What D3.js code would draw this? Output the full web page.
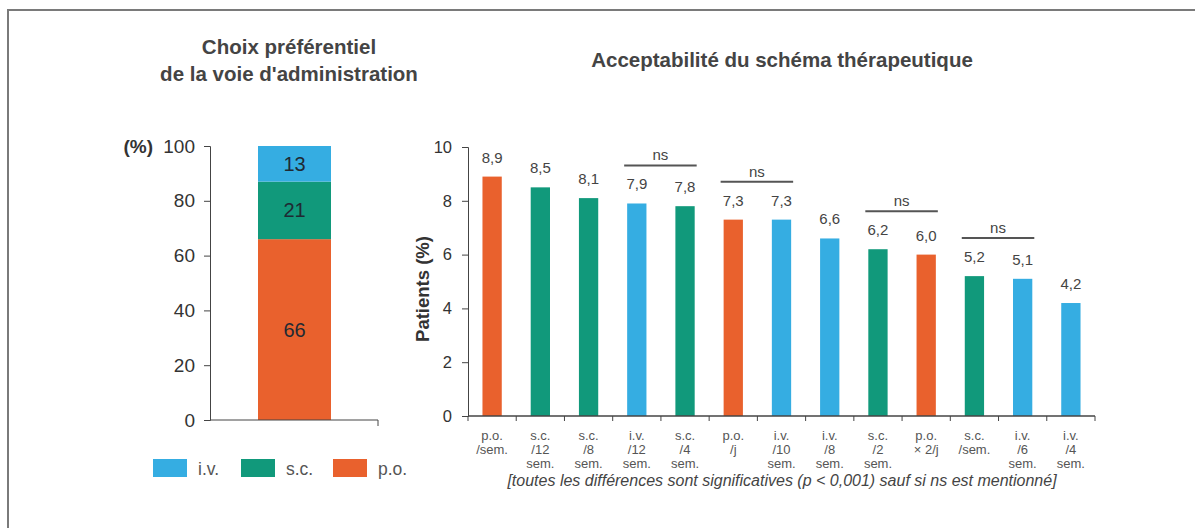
<!DOCTYPE html>
<html>
<head>
<meta charset="utf-8">
<script src="https://cdn.jsdelivr.net/npm/d3@7"></script>
<style>
  body { margin: 0; background: #fff; }
  svg { font-family: "Liberation Sans", Arial, sans-serif; }
</style>
</head>
<body>
<svg id="chart" width="1195" height="528"></svg>
<script>
// left chart data
const routes = ["p.o.", "s.c.", "i.v."];
const routeShares = [66, 21, 13];
const leftTicks = [0, 20, 40, 60, 80, 100];

// right chart data
const schemeLabels = [
  ["p.o.", "/sem.", ""], ["s.c.", "/12", "sem."], ["s.c.", "/8", "sem."],
  ["i.v.", "/12", "sem."], ["s.c.", "/4", "sem."], ["p.o.", "/j", ""],
  ["i.v.", "/10", "sem."], ["i.v.", "/8", "sem."], ["s.c.", "/2", "sem."],
  ["p.o.", "× 2/j", ""], ["s.c.", "/sem.", ""], ["i.v.", "/6", "sem."],
  ["i.v.", "/4", "sem."]
];
const schemeRoute = ["p.o.", "s.c.", "s.c.", "i.v.", "s.c.", "p.o.", "i.v.", "i.v.", "s.c.", "p.o.", "s.c.", "i.v.", "i.v."];
const schemeValues = [8.9, 8.5, 8.1, 7.9, 7.8, 7.3, 7.3, 6.6, 6.2, 6.0, 5.2, 5.1, 4.2];
const nsPairs = [[3, 4], [5, 6], [8, 9], [10, 11]];
const rightTicks = [0, 2, 4, 6, 8, 10];

const color = d3.scaleOrdinal()
  .domain(["i.v.", "s.c.", "p.o."])
  .range(["#35ade2", "#11997b", "#e9612d"]);

const svg = d3.select("#chart");
const fmt = v => d3.format(".1f")(v).replace(".", ",");

// frame
svg.append("rect")
  .attr("x", 8).attr("y", 10)
  .attr("width", 1200).attr("height", 530)
  .attr("fill", "none").attr("stroke", "#7a7a7a").attr("stroke-width", 2);

// ---------- left chart ----------
svg.append("text").attr("x", 289).attr("y", 54)
  .attr("text-anchor", "middle").attr("font-size", 20.5).attr("font-weight", "bold").attr("fill", "#444")
  .text("Choix préférentiel");
svg.append("text").attr("x", 289).attr("y", 81)
  .attr("text-anchor", "middle").attr("font-size", 20.5).attr("font-weight", "bold").attr("fill", "#444")
  .text("de la voie d'administration");

const yL = d3.scaleLinear().domain([0, 100]).range([420, 146]);
const gL = svg.append("g");

let stack = [];
let acc = 0;
routes.forEach((r, i) => {
  stack.push({ route: r, v: routeShares[i], y0: acc, y1: acc + routeShares[i] });
  acc += routeShares[i];
});

gL.selectAll("rect.seg").data(stack).enter().append("rect")
  .attr("class", "seg")
  .attr("x", 258).attr("width", 73)
  .attr("y", d => yL(d.y1))
  .attr("height", d => yL(d.y0) - yL(d.y1))
  .attr("fill", d => color(d.route));

gL.selectAll("text.seg").data(stack).enter().append("text")
  .attr("x", 294.5)
  .attr("y", d => yL((d.y0 + d.y1) / 2) + 7)
  .attr("text-anchor", "middle").attr("font-size", 20).attr("fill", "#1f2a33")
  .text(d => d.v);

const axL = gL.append("g").attr("transform", "translate(210,0)")
  .call(d3.axisLeft(yL).tickValues(leftTicks).tickSize(6).tickPadding(9));
axL.select(".domain").attr("stroke", "#444");
axL.selectAll(".tick line").attr("stroke", "#444");
axL.selectAll(".tick text").attr("font-size", 19).attr("fill", "#333").attr("font-family", "Liberation Sans, Arial, sans-serif");

gL.append("path").attr("d", "M210,420H378V426").attr("fill", "none").attr("stroke", "#444");
gL.append("text").attr("x", 153).attr("y", 153).attr("text-anchor", "end")
  .attr("font-size", 19).attr("font-weight", "bold").attr("fill", "#333").text("(%)");

// legend
const legend = ["i.v.", "s.c.", "p.o."];
const legX = [153, 241, 333];
legend.forEach((r, i) => {
  svg.append("rect").attr("x", legX[i]).attr("y", 459).attr("width", 34).attr("height", 18).attr("fill", color(r));
  svg.append("text").attr("x", legX[i] + 45).attr("y", 475)
    .attr("font-size", 17.5).attr("fill", "#555").text(r);
});

// ---------- right chart ----------
svg.append("text").attr("x", 782).attr("y", 67)
  .attr("text-anchor", "middle").attr("font-size", 20.5).attr("font-weight", "bold").attr("fill", "#444")
  .text("Acceptabilité du schéma thérapeutique");

const x = d3.scaleBand().domain(d3.range(schemeValues.length)).range([468, 1095]).paddingInner(0.6).paddingOuter(0.3);
const y = d3.scaleLinear().domain([0, 10]).range([416, 147]);
const gR = svg.append("g");

gR.selectAll("rect.bar").data(schemeValues).enter().append("rect")
  .attr("class", "bar")
  .attr("x", (d, i) => x(i))
  .attr("width", x.bandwidth())
  .attr("y", d => y(d))
  .attr("height", d => y(0) - y(d))
  .attr("fill", (d, i) => color(schemeRoute[i]));

gR.selectAll("text.val").data(schemeValues).enter().append("text")
  .attr("x", (d, i) => x(i) + x.bandwidth() / 2)
  .attr("y", d => y(d) - 14)
  .attr("text-anchor", "middle").attr("font-size", 15).attr("fill", "#444")
  .text(d => fmt(d));

// ns brackets
nsPairs.forEach(p => {
  const top = y(Math.max(schemeValues[p[0]], schemeValues[p[1]])) - 38;
  const x0 = x(p[0]) - 3, x1 = x(p[1]) + x.bandwidth() + 2;
  gR.append("line").attr("x1", x0).attr("x2", x1).attr("y1", top).attr("y2", top)
    .attr("stroke", "#555").attr("stroke-width", 2);
  gR.append("text").attr("x", (x0 + x1) / 2).attr("y", top - 5)
    .attr("text-anchor", "middle").attr("font-size", 15).attr("fill", "#444").text("ns");
});

const axR = gR.append("g").attr("transform", "translate(468,0)")
  .call(d3.axisLeft(y).tickValues(rightTicks).tickSize(6).tickPadding(10));
axR.select(".domain").attr("stroke", "#444");
axR.selectAll(".tick line").attr("stroke", "#444");
axR.selectAll(".tick text").attr("font-size", 16.5).attr("fill", "#333").attr("font-family", "Liberation Sans, Arial, sans-serif");

// x axis with ticks between bands
const bounds = d3.range(schemeValues.length + 1).map(i => 468 + i * x.step());
gR.append("line").attr("x1", 468).attr("x2", 1095).attr("y1", 416).attr("y2", 416).attr("stroke", "#444").attr("stroke-width", 1.5);
gR.selectAll("line.xt").data(bounds).enter().append("line")
  .attr("x1", d => d).attr("x2", d => d).attr("y1", 416).attr("y2", 421).attr("stroke", "#444");

// category labels, one text per line
schemeLabels.forEach((lines, i) => {
  lines.forEach((l, j) => {
    if (!l) return;
    gR.append("text").attr("x", x(i) + x.bandwidth() / 2).attr("y", 440 + j * 14)
      .attr("text-anchor", "middle").attr("font-size", 13).attr("fill", "#555").text(l);
  });
});

svg.append("text").attr("x", 429).attr("y", 289)
  .attr("transform", "rotate(-90,429,289)")
  .attr("text-anchor", "middle").attr("font-size", 18.5).attr("font-weight", "bold").attr("fill", "#333")
  .text("Patients (%)");

svg.append("text").attr("x", 782).attr("y", 486)
  .attr("text-anchor", "middle").attr("font-size", 16).attr("font-style", "italic").attr("fill", "#444")
  .text("[toutes les différences sont significatives (p < 0,001) sauf si ns est mentionné]");
</script>
</body>
</html>
